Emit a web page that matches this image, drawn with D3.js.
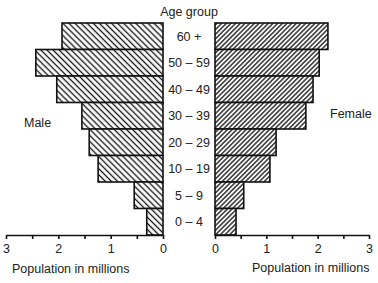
<!DOCTYPE html>
<html>
<head>
<meta charset="utf-8">
<script src="https://cdn.jsdelivr.net/npm/d3@7"></script>
<style>
  body { margin: 0; background: #fff; }
  svg text { font-family: "Liberation Sans", Arial, sans-serif; fill: #222; }
</style>
</head>
<body>
<div id="chart"></div>
<script>
// age groups, top to bottom
const ageGroups = ["60 +", "50 – 59", "40 – 49", "30 – 39", "20 – 29", "10 – 19", "5 – 9", "0 – 4"];
// population in millions
const maleValues = [1.93, 2.43, 2.03, 1.55, 1.41, 1.24, 0.55, 0.31];
const femaleValues = [2.2, 2.03, 1.91, 1.77, 1.19, 1.07, 0.56, 0.41];
const axisTicks = [0, 0.5, 1, 1.5, 2, 2.5, 3];

const width = 378, height = 283;
const svg = d3.select("#chart").append("svg").attr("width", width).attr("height", height);

// hatch patterns
const defs = svg.append("defs");
function hatch(id, size, angle) {
    const p = defs.append("pattern")
        .attr("id", id)
        .attr("patternUnits", "userSpaceOnUse")
        .attr("width", size).attr("height", size)
        .attr("patternTransform", `rotate(${angle})`);
    p.append("rect").attr("width", size).attr("height", size).attr("fill", "#fff");
    p.append("line")
        .attr("x1", 0).attr("y1", size / 2).attr("x2", size).attr("y2", size / 2)
        .attr("stroke", "#111").attr("stroke-width", 1.3);
}
hatch("male-hatch", 4.3, 45);
hatch("female-hatch", 3.3, -45);

const y = d3.scaleBand().domain(ageGroups).range([23, 235]).padding(0);
const xL = d3.scaleLinear().domain([0, 3]).range([163, 6]);
const xR = d3.scaleLinear().domain([0, 3]).range([215, 369]);

// male bars
svg.selectAll("rect.male")
  .data(ageGroups)
  .enter()
  .append("rect")
  .attr("class", "male")
  .attr("x", (d, i) => xL(maleValues[i]))
  .attr("y", d => y(d))
  .attr("width", (d, i) => xL(0) - xL(maleValues[i]))
  .attr("height", y.bandwidth())
  .attr("fill", "url(#male-hatch)")
  .attr("stroke", "#111")
  .attr("stroke-width", 1.6);

// female bars
svg.selectAll("rect.female")
  .data(ageGroups)
  .enter()
  .append("rect")
  .attr("class", "female")
  .attr("x", xR(0))
  .attr("y", d => y(d))
  .attr("width", (d, i) => xR(femaleValues[i]) - xR(0))
  .attr("height", y.bandwidth())
  .attr("fill", "url(#female-hatch)")
  .attr("stroke", "#111")
  .attr("stroke-width", 1.6);

// age labels in the middle
svg.selectAll("text.age")
  .data(ageGroups)
  .enter()
  .append("text")
  .attr("class", "age")
  .attr("x", 189)
  .attr("y", d => y(d) + y.bandwidth() / 2 + 4.5)
  .attr("text-anchor", "middle")
  .attr("font-size", 12.5)
  .text(d => d);

// axes
const fmt = d => Number.isInteger(d) ? d : "";
const axL = svg.append("g")
  .attr("transform", `translate(0,${y.range()[1]})`)
  .call(d3.axisBottom(xL).tickValues(axisTicks).tickFormat(fmt).tickSize(4).tickSizeOuter(0).tickPadding(5));
const axR = svg.append("g")
  .attr("transform", `translate(0,${y.range()[1]})`)
  .call(d3.axisBottom(xR).tickValues(axisTicks).tickFormat(fmt).tickSize(4).tickSizeOuter(0).tickPadding(5));
[axL, axR].forEach(g => {
    g.select(".domain").attr("stroke", "#111").attr("stroke-width", 1.6);
    g.selectAll(".tick line").attr("stroke", "#111").attr("stroke-width", 1.6);
    g.selectAll(".tick text").attr("font-size", 12.5).attr("font-family", "Liberation Sans, Arial, sans-serif").attr("fill", "#222");
});

// titles
svg.append("text").attr("x", 189).attr("y", 16).attr("text-anchor", "middle").attr("font-size", 12.5).text("Age group");
svg.append("text").attr("x", 24).attr("y", 127).attr("font-size", 12.5).text("Male");
svg.append("text").attr("x", 330).attr("y", 118).attr("font-size", 12.5).text("Female");
svg.append("text").attr("x", 12).attr("y", 273).attr("font-size", 12.5).text("Population in millions");
svg.append("text").attr("x", 252).attr("y", 272).attr("font-size", 12.5).text("Population in millions");
</script>
</body>
</html>
